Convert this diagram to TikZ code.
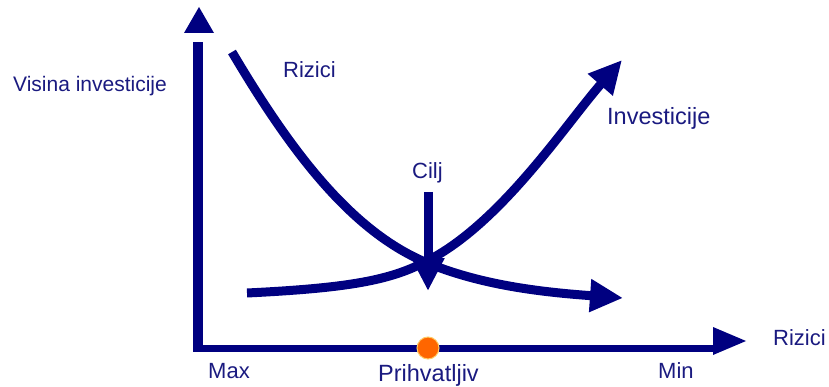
\documentclass[tikz,border=0pt]{standalone}
\usepackage{fontspec}
\setmainfont{Liberation Sans}
\usetikzlibrary{arrows.meta}
\definecolor{linkblue}{HTML}{000080}
\definecolor{txtblue}{HTML}{1A1A80}
\definecolor{dotorange}{HTML}{FF6600}
\definecolor{dotrim}{HTML}{FFCC66}
\begin{document}
\begin{tikzpicture}[x=1pt,y=-1pt,
  lbl/.style={text=txtblue,font=\fontsize{22}{26}\selectfont,inner sep=0pt,anchor=base west},
  biglbl/.style={lbl,font=\fontsize{23.5}{28}\selectfont},
  curve/.style={draw=linkblue,line width=9pt},
  tip/.style={-{Triangle[length=33pt,width=31pt]}},
  headfill/.style={fill=linkblue}]
\useasboundingbox (0,0) rectangle (829,387);
% axes
\fill[linkblue] (193,42) rectangle (203,352);
\fill[linkblue] (193,345) rectangle (713,352);
\fill[headfill] (199,7) -- (214,33) -- (184,33) -- cycle;
\fill[headfill] (713,327) -- (746,341) -- (713,355) -- cycle;
% coordinates
\coordinate (rs) at (232,52);
\coordinate (x) at (425,262);
\coordinate (re) at (623,298);
\coordinate (is) at (247,293);
\coordinate (ie) at (622,60);
\coordinate (cs) at (428,192);
\coordinate (ce) at (428,291);
% Rizici curve
\draw[curve,tip] (rs) .. controls (290,150) and (350,230) .. (x)
  .. controls (480,285) and (540,292) .. (re);
% Investicije curve
\draw[curve,tip] (is) .. controls (350,288) and (390,280) .. (x)
  .. controls (500,225) and (565,125) .. (ie);
% Cilj arrow
\draw[curve,tip] (cs) -- (ce);
% acceptable point
\node[circle,fill=dotorange,draw=dotrim,line width=1pt,minimum size=22pt,inner sep=0pt] (dot) at (428,348) {};
% labels
\node[lbl,font=\fontsize{21}{25}\selectfont] (ylab) at (13,92) {Visina investicije};
\node[lbl] (rlab) at (283,78) {Rizici};
\node[lbl] (cilj) at (412,179) {Cilj};
\node[biglbl] (inv) at (607,125) {Investicije};
\node[lbl] (xlab) at (773,345) {Rizici};
\node[lbl] (max) at (208,378) {Max};
\node[biglbl] (prih) at (378,381) {Prihvatljiv};
\node[lbl] (min) at (658,378) {Min};
\end{tikzpicture}
\end{document}
